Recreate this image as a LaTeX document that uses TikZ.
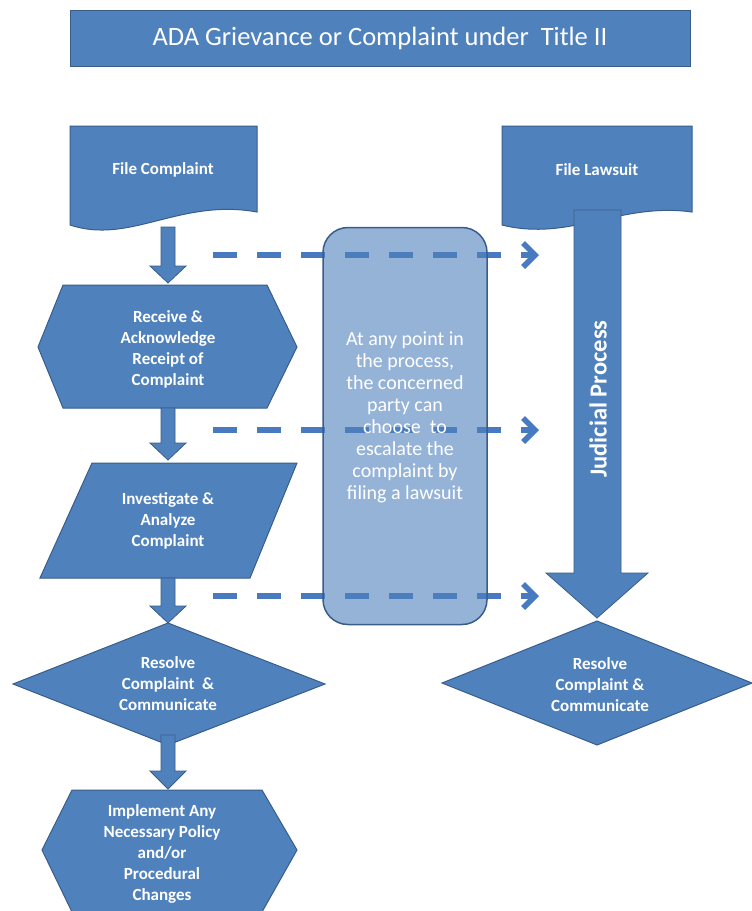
\documentclass[tikz,border=0pt]{standalone}
\usepackage{fontspec}
\setmainfont{Carlito}
\usetikzlibrary{arrows.meta}
\definecolor{mainblue}{RGB}{79,129,189}
\definecolor{edgeblue}{RGB}{56,93,138}
\definecolor{dashblue}{RGB}{72,122,193}
\newcommand\blkarrow[4]{% x centre, top, head base, tip
  \draw[blockarrow] (#1-7,#2) -- (#1+7,#2) -- (#1+7,#3) -- (#1+18,#3) -- (#1,#4)
    -- (#1-18,#3) -- (#1-7,#3) -- cycle;}
\begin{document}
\begin{tikzpicture}[x=1pt,y=-1pt,
  shapebox/.style={fill=mainblue,draw=edgeblue,line width=1pt},
  blockarrow/.style={fill=mainblue,draw=edgeblue,line width=0.8pt},
  boxtext/.style={text=white,font=\bfseries\fontsize{17}{21}\selectfont,align=center,inner sep=0pt},
  dashline/.style={draw=dashblue,line width=6pt,dash pattern=on 24pt off 20pt,
     -{Straight Barb[length=12pt,width=24pt,line width=5.5pt]}},
  midbox/.style={draw=edgeblue,line width=1.5pt,fill=mainblue,fill opacity=0.6,
     rounded corners=25pt,minimum width=164pt,minimum height=397pt,inner sep=0pt}
]
\useasboundingbox (0,0) rectangle (752,911);
\clip (0,0) rectangle (752,911);
\fill[white] (0,0) rectangle (752,911);

% title
\node[shapebox,minimum width=620pt,minimum height=56pt,inner sep=0pt,
  text=white,font=\fontsize{26.5}{30}\selectfont] (title) at (380,38)
  {ADA Grievance or Complaint under\ \ Title II};

% File Complaint (document shape)
\draw[shapebox] (70,126) -- (257,126) -- (257,212)
  .. controls (180,198) and (130,245) .. (70,225) -- cycle;
\node[boxtext] (fc) at (163,170) {File Complaint};

% Receive hexagon
\draw[shapebox] (63,285) -- (267,285) -- (297,347) -- (267,408) -- (63,408) -- (38,347) -- cycle;
\node[boxtext] (rcv) at (168,349) {Receive \&\\Acknowledge\\Receipt of\\Complaint};

% Investigate parallelogram
\draw[shapebox] (92,463) -- (297,463) -- (250,578) -- (40,578) -- cycle;
\node[boxtext] (inv) at (168,521) {Investigate \&\\Analyze\\Complaint};

% Resolve diamond (left)
\draw[shapebox] (168,623) -- (325,684) -- (168,745) -- (13,684) -- cycle;
\node[boxtext] (resL) at (168,684) {Resolve\\Complaint\ \ \&\\Communicate};

% Implement hexagon
\draw[shapebox] (72,790) -- (262,790) -- (297,850) -- (262,912) -- (72,912) -- (42,850) -- cycle;
\node[boxtext] (impl) at (162,854) {Implement Any\\Necessary Policy\\and/or\\Procedural\\Changes};

% block arrows on the left
\blkarrow{168}{227}{266}{283}
\blkarrow{168}{408}{443}{460}
\blkarrow{168}{578}{606}{623}
\blkarrow{168}{735}{771}{789}

% File Lawsuit (document shape)
\draw[shapebox] (502,126) -- (692,126) -- (692,212)
  .. controls (620,202) and (570,242) .. (502,225) -- cycle;
\node[boxtext] (fl) at (597,170) {File Lawsuit};

% right diamond
\draw[shapebox] (597,621) -- (752,683) -- (597,745) -- (442,683) -- cycle;
\node[boxtext] (resR) at (600,685) {Resolve\\Complaint \&\\Communicate};

% judicial process arrow
\draw[blockarrow] (574,210) -- (621,210) -- (621,573) -- (648,573) -- (597,618)
  -- (546,573) -- (574,573) -- cycle;
\node[text=white,font=\bfseries\fontsize{24.5}{28}\selectfont,rotate=90,inner sep=0pt]
  (jp) at (598,399) {Judicial Process};

% dashed escalation connectors
\coordinate (d1s) at (213,255); \coordinate (d1e) at (539,255);
\coordinate (d2s) at (213,430); \coordinate (d2e) at (539,430);
\coordinate (d3s) at (213,596); \coordinate (d3e) at (539,596);
\draw[dashline] (d1s) -- (d1e);
\draw[dashline] (d2s) -- (d2e);
\draw[dashline] (d3s) -- (d3e);

% translucent middle box
\node[midbox] (mid) at (405,426) {};
\node[text=white,font=\fontsize{20}{22}\selectfont,align=center,inner sep=0pt]
  (midtxt) at (405,417)
  {At any point in\\the process,\\the concerned\\party can\\choose\ \ to\\escalate the\\complaint by\\filing a lawsuit};
\end{tikzpicture}
\end{document}
